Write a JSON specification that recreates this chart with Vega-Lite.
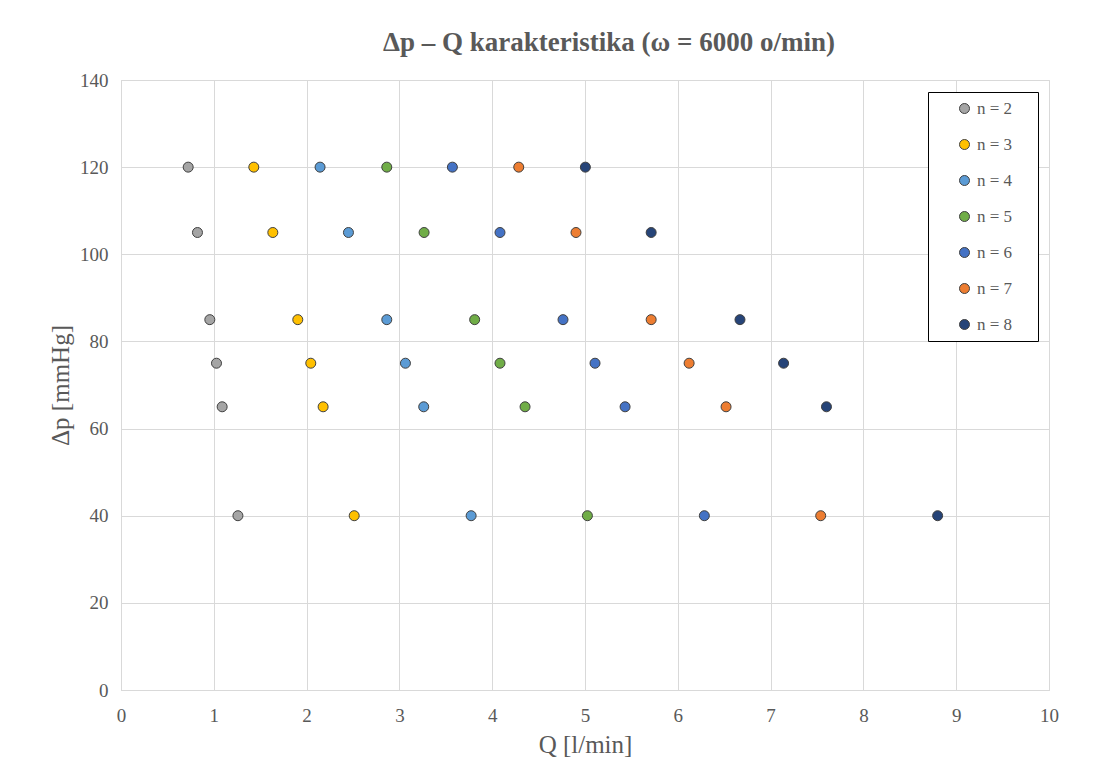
{
  "$schema": "https://vega.github.io/schema/vega-lite/v6.json",
  "width": 928,
  "height": 610,
  "autosize": {"type": "none"},
  "padding": {"left": 121, "top": 80, "right": 45, "bottom": 72},
  "background": "white",
  "title": {
    "text": "Δp – Q karakteristika (ω = 6000 o/min)",
    "font": "Liberation Serif",
    "fontSize": 27,
    "fontWeight": "bold",
    "color": "#595959",
    "anchor": "middle",
    "dx": 24,
    "offset": 14
  },
  "data": {
    "values": [
      {"n": "n = 2", "Q": 0.724, "dp": 120},
      {"n": "n = 2", "Q": 0.824, "dp": 105},
      {"n": "n = 2", "Q": 0.957, "dp": 85},
      {"n": "n = 2", "Q": 1.029, "dp": 75},
      {"n": "n = 2", "Q": 1.09, "dp": 65},
      {"n": "n = 2", "Q": 1.26, "dp": 40},
      {"n": "n = 3", "Q": 1.431, "dp": 120},
      {"n": "n = 3", "Q": 1.636, "dp": 105},
      {"n": "n = 3", "Q": 1.905, "dp": 85},
      {"n": "n = 3", "Q": 2.045, "dp": 75},
      {"n": "n = 3", "Q": 2.178, "dp": 65},
      {"n": "n = 3", "Q": 2.513, "dp": 40},
      {"n": "n = 4", "Q": 2.145, "dp": 120},
      {"n": "n = 4", "Q": 2.451, "dp": 105},
      {"n": "n = 4", "Q": 2.864, "dp": 85},
      {"n": "n = 4", "Q": 3.065, "dp": 75},
      {"n": "n = 4", "Q": 3.262, "dp": 65},
      {"n": "n = 4", "Q": 3.773, "dp": 40},
      {"n": "n = 5", "Q": 2.864, "dp": 120},
      {"n": "n = 5", "Q": 3.266, "dp": 105},
      {"n": "n = 5", "Q": 3.811, "dp": 85},
      {"n": "n = 5", "Q": 4.084, "dp": 75},
      {"n": "n = 5", "Q": 4.354, "dp": 65},
      {"n": "n = 5", "Q": 5.026, "dp": 40},
      {"n": "n = 6", "Q": 3.571, "dp": 120},
      {"n": "n = 6", "Q": 4.084, "dp": 105},
      {"n": "n = 6", "Q": 4.763, "dp": 85},
      {"n": "n = 6", "Q": 5.108, "dp": 75},
      {"n": "n = 6", "Q": 5.432, "dp": 65},
      {"n": "n = 6", "Q": 6.286, "dp": 40},
      {"n": "n = 7", "Q": 4.286, "dp": 120},
      {"n": "n = 7", "Q": 4.903, "dp": 105},
      {"n": "n = 7", "Q": 5.713, "dp": 85},
      {"n": "n = 7", "Q": 6.122, "dp": 75},
      {"n": "n = 7", "Q": 6.52, "dp": 65},
      {"n": "n = 7", "Q": 7.54, "dp": 40},
      {"n": "n = 8", "Q": 5.004, "dp": 120},
      {"n": "n = 8", "Q": 5.713, "dp": 105},
      {"n": "n = 8", "Q": 6.67, "dp": 85},
      {"n": "n = 8", "Q": 7.14, "dp": 75},
      {"n": "n = 8", "Q": 7.602, "dp": 65},
      {"n": "n = 8", "Q": 8.8, "dp": 40}
    ]
  },
  "mark": {"type": "point", "filled": true, "shape": "circle", "size": 100, "stroke": "#404040", "strokeWidth": 1, "opacity": 1},
  "encoding": {
    "x": {
      "field": "Q", "type": "quantitative",
      "scale": {"domain": [0, 10], "nice": false, "zero": true},
      "axis": {"title": "Q [l/min]", "values": [0,1,2,3,4,5,6,7,8,9,10], "labelPadding": 16, "titlePadding": 7, "labelFlush": false}
    },
    "y": {
      "field": "dp", "type": "quantitative",
      "scale": {"domain": [0, 140], "nice": false},
      "axis": {"title": "Δp [mmHg]", "values": [0,20,40,60,80,100,120,140], "labelPadding": 13, "titlePadding": 6, "labelFlush": false}
    },
    "color": {
      "field": "n", "type": "nominal",
      "scale": {
        "domain": ["n = 2","n = 3","n = 4","n = 5","n = 6","n = 7","n = 8"],
        "range": ["#A5A5A5","#FFC000","#5B9BD5","#70AD47","#4472C4","#ED7D31","#264478"]
      },
      "legend": {
        "title": null,
        "orient": "none",
        "legendX": 807,
        "legendY": 12,
        "padding": 8,
        "symbolOffset": 20,
        "symbolSize": 100,
        "symbolStrokeColor": "#404040",
        "symbolStrokeWidth": 1,
        "symbolType": "circle",
        "labelFont": "Liberation Serif",
        "labelFontSize": 17,
        "labelColor": "#595959",
        "labelOffset": 4,
        "labelExpr": "datum.label + '\u00a0\u00a0\u00a0\u00a0\u200b'",
        "rowPadding": 18,
        "strokeColor": "#000000",
        "fillColor": "white"
      }
    }
  },
  "config": {
    "view": {"stroke": "#d9d9d9", "strokeWidth": 1},
    "axis": {
      "grid": true,
      "gridColor": "#d9d9d9",
      "gridWidth": 1,
      "domainColor": "#d9d9d9",
      "ticks": false,
      "labelFont": "Liberation Serif",
      "labelFontSize": 19,
      "labelColor": "#595959",
      "titleFont": "Liberation Serif",
      "titleFontSize": 25,
      "titleFontWeight": "normal",
      "titleColor": "#595959"
    }
  }
}
